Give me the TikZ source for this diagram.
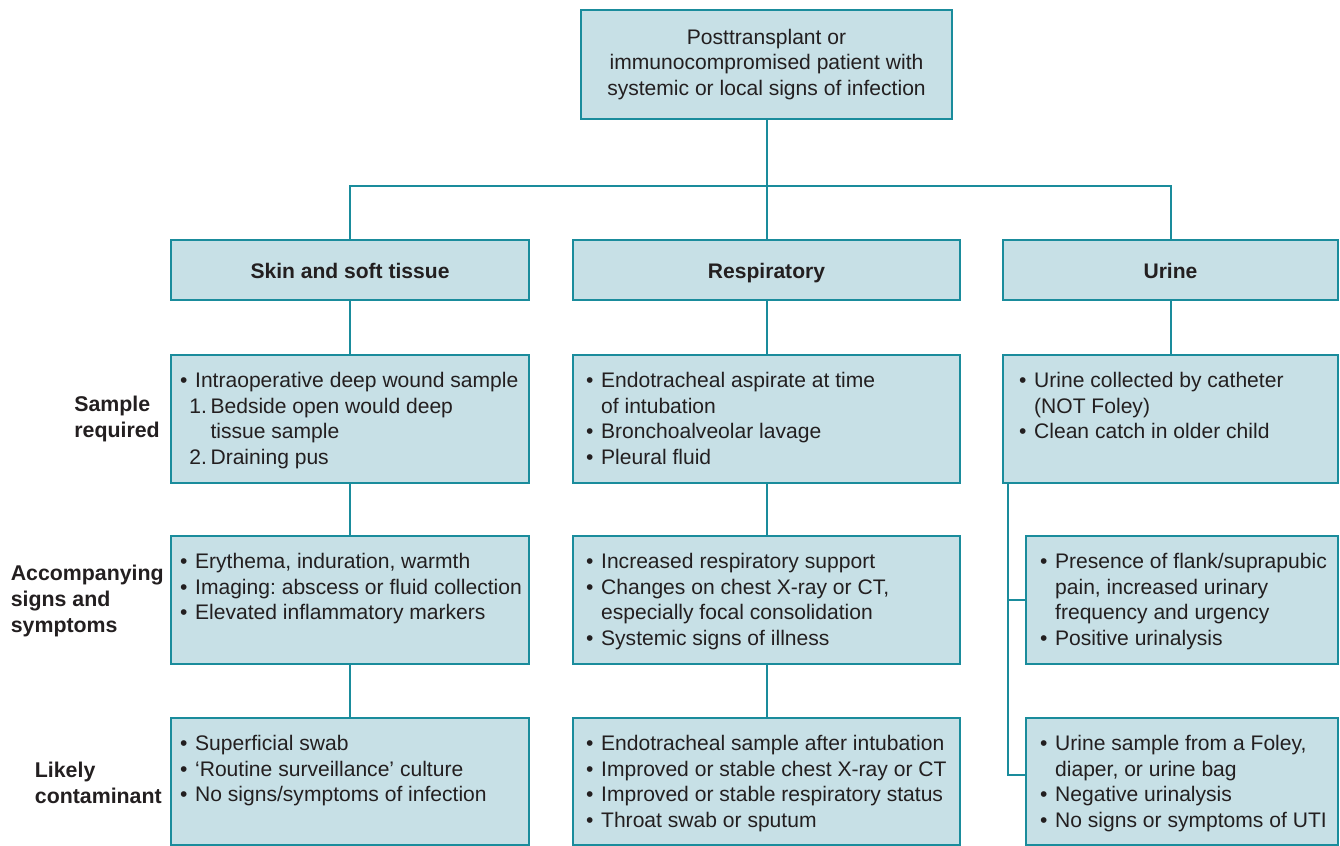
\documentclass[tikz,border=0pt]{standalone}
\usepackage{fontspec}
\setmainfont{Liberation Sans}
\frenchspacing
\definecolor{edge}{HTML}{1A8C9C}
\definecolor{cellfill}{HTML}{C7E0E6}
\definecolor{ink}{HTML}{231F20}
\newdimen\px \px=0.75pt
% fixed-size cell with top-aligned text: width, height, left padding, text
\newcommand\panel[4]{\parbox[c][#2\px][t]{#1\px}{\leftskip=#3\px\rule{0pt}{24.4pt}#4}}
% header cell with one centred bold line
\newcommand\headcell[2]{\parbox[c][60\px][c]{#1\px}{\vspace*{6\px}\centering\bfseries\strut #2\strut}}
\newcommand\bu{\makebox[0.72em][l]{•}}
\newcommand\ind{\hspace*{0.72em}}
\newcommand\num[1]{\hspace*{0.45em}\makebox[1em][l]{#1}}
\newcommand\numind{\hspace*{1.45em}}
\tikzset{
  every node/.style={font=\fontsize{15.8}{19.2}\selectfont, text=ink},
  box/.style={draw=edge, fill=cellfill, line width=1.5pt, inner sep=0pt, outer sep=0pt, anchor=north west},
  link/.style={draw=edge, line width=1.5pt},
  side/.style={font=\fontsize{16}{19.2}\selectfont\bfseries, align=left, anchor=east, inner sep=0pt}
}
\begin{document}
\begin{tikzpicture}[x=0.75pt,y=-0.75pt]
\useasboundingbox (0,0) rectangle (1340,846);

% root
\node[box] (top) at (581,10) {\parbox[c][109\px][c]{371\px}{\centering Posttransplant or\\immunocompromised patient with\\systemic or local signs of infection}};

% column headers
\node[box] (sk) at (171,240) {\headcell{358}{Skin and soft tissue}};
\node[box] (re) at (573,240) {\headcell{387}{Respiratory}};
\node[box] (ur) at (1003,240) {\headcell{335}{Urine}};

% sample required
\node[box] (sk2) at (171,355) {\panel{358}{128}{9}{\bu Intraoperative deep wound sample\\
  \num{1.}Bedside open would deep\\ \numind tissue sample\\ \num{2.}Draining pus}};
\node[box] (re2) at (573,355) {\panel{387}{128}{13}{\bu Endotracheal aspirate at time\\
  \ind of intubation\\ \bu Bronchoalveolar lavage\\ \bu Pleural fluid}};
\node[box] (ur2) at (1003,355) {\panel{335}{128}{16}{\bu Urine collected by catheter\\
  \ind (NOT Foley)\\ \bu Clean catch in older child}};

% accompanying signs and symptoms
\node[box] (sk3) at (171,536) {\panel{358}{128}{9}{\bu Erythema, induration, warmth\\
  \bu Imaging: abscess or fluid collection\\ \bu Elevated inflammatory markers}};
\node[box] (re3) at (573,536) {\panel{387}{128}{13}{\bu Increased respiratory support\\
  \bu Changes on chest X-ray or CT,\\ \ind especially focal consolidation\\ \bu Systemic signs of illness}};
\node[box] (ur3) at (1026,536) {\panel{312}{128}{14}{\bu Presence of flank/suprapubic\\
  \ind pain, increased urinary\\ \ind frequency and urgency\\ \bu Positive urinalysis}};

% likely contaminant
\node[box] (sk4) at (171,718) {\panel{358}{127}{9}{\bu Superficial swab\\
  \bu ‘Routine surveillance’ culture\\ \bu No signs/symptoms of infection}};
\node[box] (re4) at (573,718) {\panel{387}{127}{13}{\bu Endotracheal sample after intubation\\
  \bu Improved or stable chest X-ray or CT\\ \bu Improved or stable respiratory status\\ \bu Throat swab or sputum}};
\node[box] (ur4) at (1026,718) {\panel{312}{127}{14}{\bu Urine sample from a Foley,\\
  \ind diaper, or urine bag\\ \bu Negative urinalysis\\ \bu No signs or symptoms of UTI}};

% row labels
\node[side] (lab1) at (160,419) {Sample\\required};
\node[side] (lab2) at (164,601) {Accompanying\\signs and\\symptoms};
\node[side] (lab3) at (162,783) {Likely\\contaminant};

% connectors
\coordinate (hub) at (766.5,186);
\draw[link] (top.south) -- (re.north);
\draw[link] (sk.north) |- (hub) -| (ur.north);
\draw[link] (sk.south) -- (sk2.north);
\draw[link] (sk2.south) -- (sk3.north);
\draw[link] (sk3.south) -- (sk4.north);
\draw[link] (re.south) -- (re2.north);
\draw[link] (re2.south) -- (re3.north);
\draw[link] (re3.south) -- (re4.north);
\draw[link] (ur.south) -- (ur2.north);
\coordinate (utap) at ([xshift=3.75pt]ur2.south west);
\draw[link] (utap) |- (ur3.west);
\draw[link] (utap) |- ([yshift=4.9pt]ur4.west);
\end{tikzpicture}
\end{document}
